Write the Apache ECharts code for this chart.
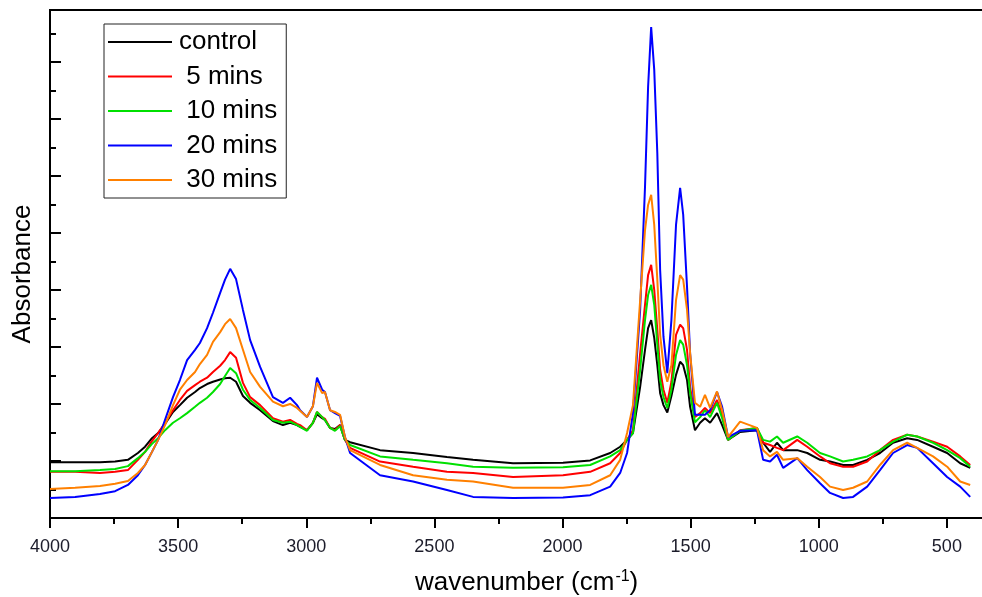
<!DOCTYPE html>
<html>
<head>
<meta charset="utf-8">
<script src="https://cdn.jsdelivr.net/npm/echarts@6/dist/echarts.min.js"></script>
<style>
html,body{margin:0;padding:0;background:#fff;}
#chart{width:982px;height:597px;}
</style>
</head>
<body>
<div id="chart"></div>
<script>
const wavenumber = [4000,3902,3805,3746,3696,3657,3629,3602,3578,3551,
3520,3493,3465,3434,3415,3387,3364,3336,3317,3297,
3274,3247,3219,3180,3130,3091,3063,3036,3024,2997,
2974,2958,2938,2927,2907,2888,2868,2849,2829,2712,
2583,2451,2349,2193,1998,1892,1814,1775,1748,1725,
1697,1678,1666,1654,1642,1630,1619,1606,1591,1575,
1557,1541,1529,1514,1502,1483,1463,1444,1424,1397,
1377,1354,1307,1241,1217,1190,1163,1139,1084,1045,
995,956,905,866,811,761,710,655,616,554,
499,448,409];

const control = [0.098,0.098,0.098,0.099,0.102,0.114,0.125,0.140,0.149,0.165,
0.186,0.198,0.211,0.221,0.228,0.235,0.239,0.243,0.245,0.246,
0.239,0.214,0.202,0.189,0.170,0.163,0.167,0.163,0.160,0.154,
0.167,0.182,0.175,0.172,0.158,0.156,0.163,0.137,0.133,0.119,
0.114,0.107,0.102,0.096,0.097,0.101,0.114,0.125,0.137,0.149,
0.230,0.295,0.333,0.347,0.316,0.268,0.219,0.198,0.185,0.214,
0.251,0.274,0.268,0.242,0.195,0.154,0.167,0.175,0.167,0.184,
0.163,0.137,0.151,0.154,0.132,0.116,0.132,0.119,0.119,0.114,
0.102,0.099,0.093,0.093,0.102,0.114,0.132,0.140,0.137,0.125,
0.114,0.096,0.088];

const mins5 = [0.081,0.081,0.079,0.081,0.084,0.102,0.116,0.135,0.149,0.167,
0.189,0.207,0.223,0.233,0.239,0.246,0.256,0.267,0.277,0.291,
0.281,0.237,0.212,0.198,0.175,0.169,0.172,0.165,0.163,0.154,
0.167,0.186,0.177,0.174,0.158,0.154,0.163,0.137,0.123,0.099,
0.090,0.081,0.079,0.072,0.075,0.081,0.096,0.114,0.137,0.154,
0.289,0.374,0.426,0.444,0.400,0.330,0.260,0.225,0.202,0.239,
0.321,0.339,0.333,0.295,0.230,0.177,0.184,0.193,0.184,0.207,
0.181,0.137,0.154,0.158,0.132,0.128,0.123,0.119,0.137,0.125,
0.108,0.096,0.090,0.090,0.099,0.119,0.137,0.146,0.143,0.134,
0.125,0.108,0.093];

const mins10 = [0.082,0.082,0.084,0.086,0.091,0.105,0.116,0.130,0.140,0.154,
0.167,0.175,0.184,0.195,0.202,0.211,0.221,0.235,0.249,0.263,
0.254,0.225,0.207,0.193,0.172,0.167,0.169,0.163,0.160,0.153,
0.167,0.186,0.177,0.172,0.158,0.153,0.161,0.137,0.128,0.108,
0.102,0.096,0.090,0.088,0.089,0.093,0.108,0.119,0.137,0.149,
0.260,0.347,0.391,0.409,0.374,0.304,0.242,0.212,0.193,0.225,
0.286,0.312,0.304,0.268,0.219,0.168,0.177,0.189,0.177,0.202,
0.175,0.137,0.153,0.158,0.137,0.134,0.143,0.132,0.143,0.132,
0.114,0.108,0.099,0.102,0.108,0.119,0.134,0.146,0.143,0.132,
0.119,0.105,0.090];

const mins20 = [0.035,0.037,0.042,0.047,0.058,0.075,0.093,0.116,0.137,0.172,
0.212,0.242,0.277,0.295,0.307,0.333,0.360,0.395,0.418,0.437,
0.419,0.365,0.312,0.265,0.212,0.202,0.211,0.198,0.189,0.177,
0.196,0.246,0.225,0.221,0.189,0.184,0.179,0.142,0.114,0.075,
0.064,0.049,0.037,0.035,0.036,0.040,0.055,0.079,0.114,0.184,
0.365,0.581,0.756,0.861,0.786,0.640,0.435,0.318,0.254,0.347,
0.514,0.579,0.532,0.405,0.289,0.181,0.181,0.181,0.189,0.221,
0.195,0.142,0.153,0.154,0.102,0.099,0.111,0.088,0.105,0.084,
0.061,0.044,0.035,0.037,0.055,0.084,0.114,0.128,0.123,0.096,
0.072,0.055,0.037];

const mins30 = [0.051,0.053,0.056,0.060,0.065,0.079,0.093,0.116,0.137,0.163,
0.198,0.225,0.242,0.256,0.270,0.286,0.309,0.326,0.340,0.349,
0.333,0.295,0.256,0.230,0.204,0.196,0.200,0.193,0.188,0.177,
0.196,0.237,0.219,0.221,0.189,0.186,0.181,0.142,0.119,0.093,
0.075,0.067,0.064,0.053,0.053,0.058,0.075,0.102,0.149,0.198,
0.382,0.505,0.549,0.567,0.514,0.418,0.321,0.268,0.239,0.268,
0.382,0.426,0.418,0.365,0.289,0.202,0.195,0.216,0.193,0.222,
0.189,0.142,0.169,0.158,0.119,0.108,0.116,0.102,0.105,0.090,
0.072,0.055,0.049,0.053,0.064,0.093,0.119,0.132,0.123,0.108,
0.090,0.064,0.058];

const seriesNames = ['control', ' 5 mins', ' 10 mins', ' 20 mins', ' 30 mins'];
const seriesValues = [control, mins5, mins10, mins20, mins30];
const seriesColors = ['#000000', '#ff0000', '#00e000', '#0000ff', '#ff8000'];
const xTickValues = [4000, 3500, 3000, 2500, 2000, 1500, 1000, 500];

const chart = echarts.init(document.getElementById('chart'), null, {renderer: 'canvas'});
const FONT = "'Liberation Sans', Arial, sans-serif";

chart.setOption({
  backgroundColor: '#ffffff',
  animation: false,
  title: {
    text: 'wavenumber (cm{sup|-1})',
    left: 415,
    top: 569,
    padding: 0,
    textStyle: {
      fontFamily: FONT, fontSize: 26, fontWeight: 'normal', color: '#000',
      rich: { sup: { fontFamily: FONT, fontSize: 16, verticalAlign: 'top', padding: [0, 0, 12, 1], color: '#000' } }
    }
  },
  legend: {
    left: 104, top: 24,
    orient: 'vertical',
    padding: [5, 9, 5, 4],
    icon: 'rect',
    itemWidth: 64, itemHeight: 2, itemGap: 8.5,
    borderColor: '#222', borderWidth: 1,
    backgroundColor: '#fff',
    textStyle: { fontFamily: FONT, fontSize: 26, lineHeight: 26, color: '#000', padding: [0, 0, 0, 2] },
    data: seriesNames
  },
  grid: {
    left: 50, top: 10, bottom: 79, right: -93,
    outerBoundsMode: 'none',
    containLabel: false,
    show: true, borderColor: '#000', borderWidth: 2, backgroundColor: 'transparent'
  },
  xAxis: {
    type: 'value', inverse: true, min: 0, max: 4000, interval: 500,
    axisLine: { show: true, onZero: false, lineStyle: { color: '#000', width: 2 } },
    axisTick: { show: true, length: 10, lineStyle: { color: '#000', width: 2 } },
    minorTick: { show: true, splitNumber: 2, length: 6, lineStyle: { color: '#000', width: 2 } },
    splitLine: { show: false },
    axisLabel: {
      margin: 20, fontFamily: FONT, fontSize: 18, color: '#1c1c2a',
      formatter: v => (xTickValues.indexOf(v) >= 0 ? String(v) : '')
    }
  },
  yAxis: {
    type: 'value', min: 0, max: 0.891, interval: 0.1,
    name: 'Absorbance', nameLocation: 'middle', nameGap: 14,
    nameTextStyle: { fontFamily: FONT, fontSize: 26, color: '#000', padding: [0, 20, 0, 0] },
    axisLine: { show: true, onZero: false, lineStyle: { color: '#000', width: 2 } },
    axisTick: { show: true, inside: true, length: 11, lineStyle: { color: '#000', width: 2 } },
    minorTick: { show: true, splitNumber: 2, length: 6, lineStyle: { color: '#000', width: 2 } },
    splitLine: { show: false },
    axisLabel: { show: false }
  },
  series: seriesNames.map((name, k) => ({
    name: name,
    type: 'line',
    symbol: 'none',
    smooth: false,
    color: seriesColors[k],
    lineStyle: { width: 2, color: seriesColors[k] },
    data: wavenumber.map((w, i) => [w, seriesValues[k][i]])
  }))
});
</script>
</body>
</html>
